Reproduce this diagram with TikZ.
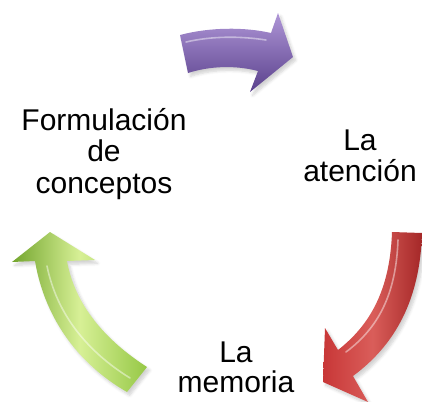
\documentclass[tikz,border=0pt]{standalone}
\usepackage{fontspec}
\setmainfont{Liberation Sans}
\usetikzlibrary{shadows.blur}
\definecolor{purpL}{RGB}{175,150,215}
\definecolor{purpM}{RGB}{120,88,168}
\definecolor{purpD}{RGB}{90,65,140}
\definecolor{redL}{RGB}{225,110,105}
\definecolor{redM}{RGB}{200,55,55}
\definecolor{redD}{RGB}{165,40,40}
\definecolor{grnL}{RGB}{215,240,150}
\definecolor{grnM}{RGB}{150,200,70}
\definecolor{grnD}{RGB}{115,165,45}
\begin{document}
\begin{tikzpicture}[x=0.75pt,y=-0.75pt,
  lbl/.style={align=center,font=\fontsize{22.5}{23.5}\selectfont,inner sep=0pt},
  arrowshape/.style={draw=none,blur shadow={shadow xshift=2pt,shadow yshift=-2.5pt,shadow opacity=18,shadow blur steps=6}},
  gloss/.style={draw=white,opacity=0.45,line width=1.2pt,line cap=round}]
\useasboundingbox (0,0) rectangle (422,401);
% purple arrow (top)
\path[arrowshape,top color=purpL,middle color=purpM,bottom color=purpD]
  (180,35) .. controls (210,27) and (245,27) .. (271,33)
  -- (278,13) -- (293,57) -- (250,92) -- (258,71)
  .. controls (235,65) and (210,66) .. (188,73) -- cycle;
\draw[gloss] (186,42) .. controls (212,36) and (240,36) .. (266,40);
% red arrow (right)
\path[arrowshape,left color=redM,right color=redD,middle color=redL!70!redM]
  (392,232) -- (422,233)
  .. controls (420,300) and (395,345) .. (353,376)
  -- (368,402) -- (323,382) -- (325,328) -- (338,350)
  .. controls (370,325) and (390,290) .. (392,232) -- cycle;
\draw[gloss] (398,240) .. controls (396,295) and (378,328) .. (346,352);
% green arrow (left)
\path[arrowshape,left color=grnD,right color=grnM,middle color=grnL]
  (50,232) -- (95,260) -- (67,261)
  .. controls (75,305) and (105,340) .. (147,367)
  -- (127,392)
  .. controls (80,365) and (45,320) .. (35,261)
  -- (12,262) -- cycle;
\draw[gloss] (47,266) .. controls (57,315) and (88,352) .. (130,378);
% labels
\node[lbl] (form) at (104,154) {Formulación\\de\\conceptos};
\node[lbl] (aten) at (360,156) {La\\atención};
\node[lbl,anchor=south,font=\fontsize{22.5}{22.5}\selectfont] (mem) at (236,393) {La\\memoria};
\end{tikzpicture}
\end{document}
